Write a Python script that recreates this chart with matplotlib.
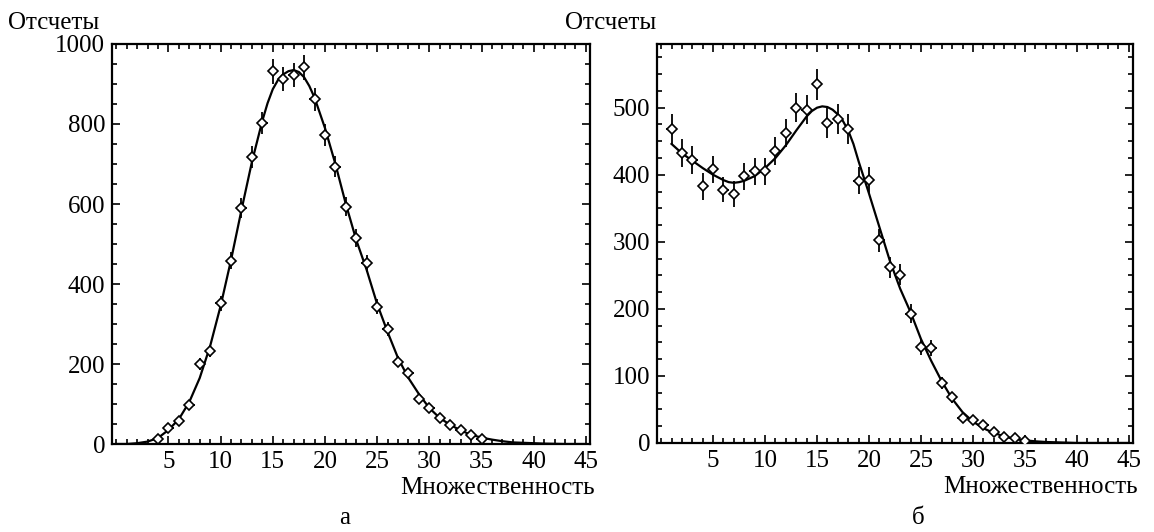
import matplotlib.pyplot as plt
from matplotlib.ticker import MultipleLocator

plt.rcParams['font.family'] = ['Liberation Serif', 'DejaVu Serif']

# Panel a: measured counts, errors and fitted curve
mult_a = list(range(4, 36))
counts_a = [12, 40, 57, 98, 200, 232, 352, 458, 590, 718, 803, 932, 912, 922,
            942, 862, 772, 693, 593, 515, 452, 343, 288, 206, 178, 113, 90, 65,
            48, 35, 22, 12]
errors_a = [4, 6, 8, 10, 14, 15, 19, 21, 24, 27, 28, 31, 30, 30,
            31, 29, 28, 26, 24, 23, 21, 19, 17, 14, 13, 11, 9, 8,
            7, 6, 5, 4]
fit_x_a = [0, 1, 2, 3, 4, 5, 6, 7, 8, 9, 10, 11, 12, 13, 14, 14.5, 15, 15.5,
           16, 16.5, 17, 17.5, 18, 18.5, 19, 20, 21, 22, 23, 24, 25, 26, 27,
           28, 29, 30, 31, 32, 33, 34, 35, 36, 37, 38, 39, 40, 41, 42, 43, 44,
           45]
fit_y_a = [0, 0, 2, 6, 15, 35, 62, 105, 165, 245, 345, 460, 585, 705, 808,
           852, 887, 910, 924, 932, 935, 930, 917, 895, 866, 790, 700, 600,
           510, 435, 350, 280, 215, 165, 125, 90, 65, 48, 34, 23, 16, 11, 7,
           4, 3, 2, 1, 0.5, 0, 0, 0]

# Panel b
mult_b = list(range(1, 36))
counts_b = [468, 432, 422, 383, 408, 378, 371, 398, 405, 405, 435, 462, 500,
            497, 535, 477, 483, 468, 391, 392, 302, 262, 251, 193, 143, 141,
            89, 68, 37, 34, 27, 16, 9, 7, 3]
errors_b = [22, 21, 21, 20, 20, 19, 19, 20, 20, 20, 21, 21, 22,
            22, 23, 22, 22, 22, 20, 20, 17, 16, 16, 14, 12, 12,
            9, 8, 6, 6, 5, 4, 3, 3, 2]
fit_x_b = [1, 2, 3, 4, 5, 6, 6.5, 7, 7.5, 8, 9, 10, 11, 12, 13, 14, 14.5, 15,
           15.5, 16, 16.5, 17, 17.5, 18, 18.5, 19, 20, 21, 22, 23, 24, 25, 26,
           27, 28, 29, 30, 31, 32, 33, 34, 35, 36, 37, 38, 39, 40, 41, 42, 43,
           44, 45]
fit_y_b = [446, 432, 421, 410, 400, 392, 389, 388, 389, 391, 398, 410, 425,
           444, 466, 487, 495, 500, 502, 501, 497, 490, 480, 466, 446, 420,
           372, 322, 272, 230, 195, 155, 122, 92, 66, 46, 32, 22, 15, 10, 6,
           4, 2.5, 1.5, 1, 0.5, 0, 0, 0, 0, 0, 0]

x_ticks = [5, 10, 15, 20, 25, 30, 35, 40, 45]

fig = plt.figure(figsize=(11.54, 5.32), dpi=100)
ax_a = fig.add_axes([0.0971, 0.1654, 0.4142, 0.7519])
ax_b = fig.add_axes([0.5693, 0.1673, 0.4125, 0.7500])


def draw_panel(ax, x, y, err, fx, fy, ymax, ymajor, yminor):
    ax.plot(fx, fy, color='black', linewidth=1.6, zorder=2)
    ax.errorbar(x, y, yerr=err, xerr=0.5, fmt='D', color='black',
                markerfacecolor='white', markeredgecolor='black',
                markersize=4.8, markeredgewidth=1.2, elinewidth=1.3,
                capsize=0, zorder=3)
    ax.set_xlim(-0.4, 45.4)
    ax.set_ylim(0, ymax)
    ax.set_xticks(x_ticks)
    ax.xaxis.set_minor_locator(MultipleLocator(1))
    ax.yaxis.set_major_locator(MultipleLocator(ymajor))
    ax.yaxis.set_minor_locator(MultipleLocator(yminor))
    ax.tick_params(which='both', direction='in', top=True, right=True,
                   width=1.2, labelsize=18)
    ax.tick_params(which='major', length=6, pad=5)
    ax.tick_params(which='minor', length=3.5)
    for s in ax.spines.values():
        s.set_linewidth(1.6)
    ax.text(1.01, -0.11, 'Множественность', transform=ax.transAxes,
            ha='right', va='center', fontsize=18)


draw_panel(ax_a, mult_a, counts_a, errors_a, fit_x_a, fit_y_a, 1000, 200, 50)
draw_panel(ax_b, mult_b, counts_b, errors_b, fit_x_b, fit_y_b, 595, 100, 25)

fig.text(8 / 1154, 1 - 23 / 532, 'Отсчеты', ha='left', va='center', fontsize=18)
fig.text(565 / 1154, 1 - 23 / 532, 'Отсчеты', ha='left', va='center', fontsize=18)
fig.text(345 / 1154, 1 - 518 / 532, 'а', ha='center', va='center', fontsize=18)
fig.text(918 / 1154, 1 - 518 / 532, 'б', ha='center', va='center', fontsize=18)

fig.savefig('out.png', dpi=100)
